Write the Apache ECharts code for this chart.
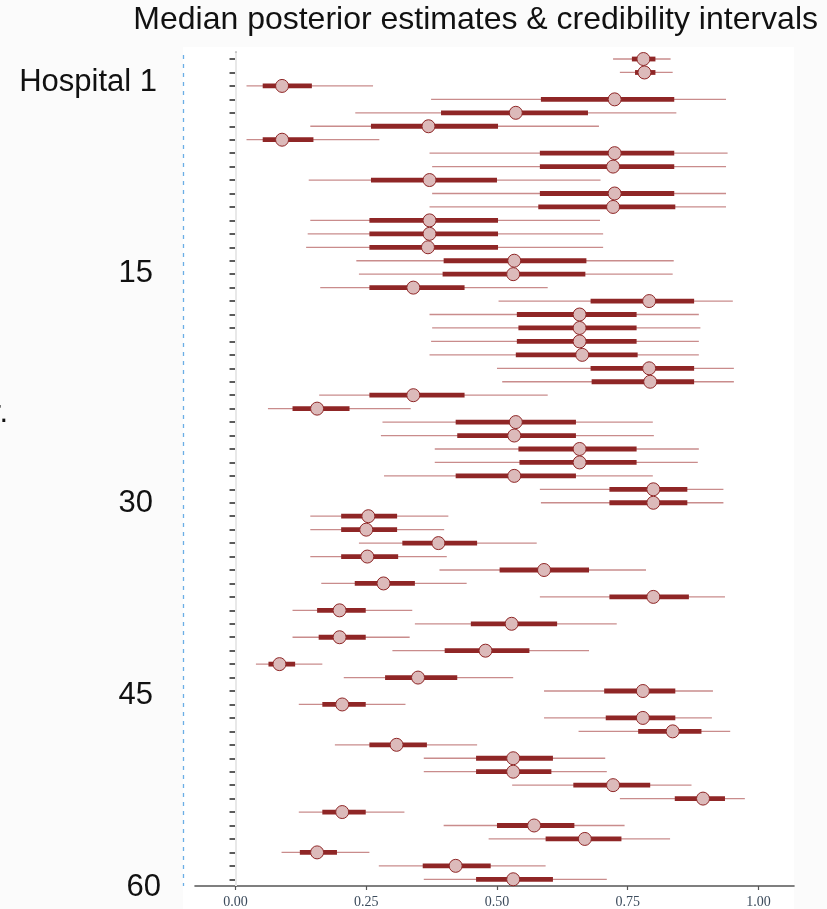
<!DOCTYPE html>
<html>
<head>
<meta charset="utf-8">
<script src="https://cdn.jsdelivr.net/npm/echarts@6/dist/echarts.min.js"></script>
<style>
  html, body { margin: 0; padding: 0; background: #fbfbfb; }
  #chart { width: 827px; height: 909px; }
</style>
</head>
<body>
<div id="chart"></div>
<script>
// Row names: two pooled estimates followed by 60 hospitals (top to bottom)
const rowNames = ['Pooled A', 'Pooled B'];
for (let h = 1; h <= 60; h++) rowNames.push('Hospital ' + h);

// Posterior summaries per row
const lower95 = [0.722,0.735, 0.021,0.374,0.229,0.143,0.021,0.371,0.376,0.140,0.376,0.371,
  0.143,0.138,0.135,0.231,0.236,0.162,0.503,0.371,0.376,0.374,0.371,0.500,0.510,
  0.160,0.062,0.281,0.278,0.381,0.381,0.284,0.582,0.584,0.143,0.143,0.236,
  0.143,0.390,0.164,0.582,0.109,0.343,0.109,0.300,0.039,0.207,0.590,0.121,
  0.590,0.656,0.190,0.360,0.360,0.529,0.735,0.121,0.398,0.484,0.088,0.274,0.360];
const lower50 = [0.758,0.764, 0.052,0.584,0.393,0.259,0.052,0.582,0.582,0.259,0.582,0.579,
  0.256,0.256,0.256,0.398,0.396,0.256,0.679,0.538,0.541,0.538,0.536,0.679,0.681,
  0.256,0.109,0.421,0.424,0.541,0.543,0.421,0.715,0.715,0.202,0.202,0.319,
  0.202,0.505,0.228,0.715,0.156,0.450,0.159,0.400,0.063,0.286,0.705,0.166,
  0.708,0.770,0.256,0.460,0.460,0.646,0.840,0.166,0.500,0.593,0.123,0.358,0.460];
const median = [0.780,0.782, 0.089,0.725,0.536,0.369,0.089,0.725,0.722,0.371,0.725,0.722,
  0.371,0.371,0.368,0.533,0.531,0.340,0.791,0.658,0.658,0.658,0.663,0.791,0.793,
  0.340,0.156,0.536,0.533,0.658,0.658,0.533,0.799,0.799,0.254,0.250,0.388,
  0.252,0.590,0.283,0.799,0.199,0.528,0.199,0.478,0.084,0.349,0.779,0.204,
  0.779,0.836,0.308,0.531,0.531,0.722,0.894,0.204,0.571,0.668,0.156,0.421,0.531];
const upper50 = [0.803,0.803, 0.146,0.839,0.674,0.502,0.149,0.839,0.839,0.500,0.839,0.841,
  0.502,0.502,0.502,0.671,0.669,0.438,0.877,0.767,0.767,0.767,0.769,0.877,0.877,
  0.438,0.218,0.651,0.651,0.767,0.767,0.651,0.864,0.864,0.309,0.309,0.462,
  0.311,0.676,0.343,0.867,0.249,0.615,0.249,0.562,0.114,0.424,0.841,0.249,
  0.841,0.891,0.366,0.607,0.604,0.793,0.936,0.249,0.648,0.738,0.194,0.488,0.607];
const upper95 = [0.832,0.836, 0.263,0.938,0.843,0.695,0.275,0.941,0.938,0.698,0.938,0.938,
  0.697,0.703,0.703,0.838,0.836,0.597,0.951,0.886,0.889,0.886,0.886,0.953,0.953,
  0.597,0.335,0.798,0.800,0.886,0.884,0.798,0.933,0.933,0.407,0.399,0.576,
  0.404,0.785,0.442,0.936,0.338,0.729,0.333,0.676,0.166,0.531,0.913,0.325,
  0.911,0.946,0.462,0.707,0.710,0.872,0.974,0.323,0.744,0.831,0.256,0.593,0.710];

// Axis labels
const xTickValues = [0, 0.25, 0.5, 0.75, 1];
const sideLabels = ['Hospital 1', '15', '30', '45', '60'];

// Layout of the large side labels (pixel anchors)
const sideLabelRight = [157, 153, 153, 153, 161];
const sideLabelMid = [82, 273, 503, 695.5, 887];

const seriesData = rowNames.map((_, i) =>
  [i, lower95[i], lower50[i], median[i], upper50[i], upper95[i]]);

const chart = echarts.init(document.getElementById('chart'), null, { renderer: 'canvas' });

const graphics = [
  { type: 'rect', z: -10, shape: { x: 183, y: 47, width: 611, height: 862 }, style: { fill: '#ffffff' } },
  { type: 'line', z: 5, shape: { x1: 183.5, y1: 55, x2: 183.5, y2: 886 },
    style: { stroke: '#6aaee6', lineWidth: 1.3, lineDash: [4, 5] } },
  { type: 'text', z: 5, style: { text: 'Median posterior estimates & credibility intervals',
      x: 818, y: 20, align: 'right', verticalAlign: 'middle',
      font: '32px "Liberation Sans", Arial, sans-serif', fill: '#111' } },
  { type: 'text', z: 5, style: { text: 'nr.', x: 8, y: 413, align: 'right', verticalAlign: 'middle',
      font: '31px "Liberation Sans", Arial, sans-serif', fill: '#111' } }
];
sideLabels.forEach((t, k) => {
  graphics.push({ type: 'text', z: 5, style: { text: t, x: sideLabelRight[k], y: sideLabelMid[k],
    align: 'right', verticalAlign: 'middle',
    font: '31px "Liberation Sans", Arial, sans-serif', fill: '#111' } });
});

chart.setOption({
  backgroundColor: '#fbfbfb',
  animation: false,
  grid: { left: 195, right: 33, top: 52.3, bottom: 23, outerBoundsMode: 'none', containLabel: false },
  xAxis: {
    type: 'value', min: -0.0775, max: 1.068,
    axisLine: { show: true, lineStyle: { color: '#555', width: 1.6 } },
    axisTick: { show: true, length: 4, customValues: xTickValues, lineStyle: { color: '#555', width: 1.2 } },
    axisLabel: {
      customValues: xTickValues, margin: 9,
      formatter: v => v.toFixed(2),
      fontFamily: '"Liberation Serif", "Times New Roman", serif', fontSize: 14, color: '#3c4b5c'
    },
    splitLine: { show: false }
  },
  yAxis: {
    type: 'category', data: rowNames, inverse: true,
    axisLine: { show: true, lineStyle: { color: '#444', width: 1.6 } },
    axisTick: { show: true, alignWithLabel: true, interval: 0, length: 6, lineStyle: { color: '#333', width: 1.6 } },
    axisLabel: { show: false },
    splitLine: { show: false }
  },
  graphic: graphics,
  series: [
    {
      type: 'scatter', data: [], silent: true,
      markLine: {
        silent: true, symbol: 'none', label: { show: false },
        lineStyle: { color: '#e8e8e8', width: 2, type: 'solid' },
        data: [{ xAxis: 0 }]
      }
    },
    {
      type: 'custom',
      data: seriesData,
      encode: { x: [1, 2, 3, 4, 5], y: 0 },
      renderItem: function (params, api) {
        const row = api.value(0);
        const y = api.coord([0, row])[1];
        const px = v => api.coord([v, row])[0];
        const lo95 = px(api.value(1)), lo50 = px(api.value(2)), md = px(api.value(3));
        const hi50 = px(api.value(4)), hi95 = px(api.value(5));
        return {
          type: 'group',
          children: [
            { type: 'line', shape: { x1: lo95, y1: y, x2: hi95, y2: y },
              style: { stroke: '#c98c8c', lineWidth: 1.3 } },
            { type: 'rect', shape: { x: lo50, y: y - 2.4, width: hi50 - lo50, height: 4.8 },
              style: { fill: '#8f2626' } },
            { type: 'circle', shape: { cx: md, cy: y, r: 6.5 },
              style: { fill: '#dcbaba', stroke: '#8f2626', lineWidth: 1 } }
          ]
        };
      }
    }
  ]
});
</script>
</body>
</html>
